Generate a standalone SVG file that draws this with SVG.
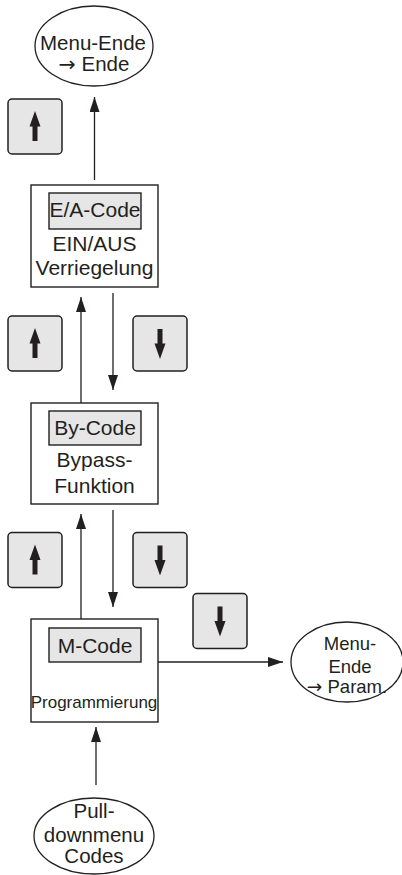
<svg xmlns="http://www.w3.org/2000/svg" width="402" height="875" viewBox="0 0 402 875">
<style>
text{font-family:"Liberation Sans",Arial,sans-serif;fill:#231f20;text-anchor:middle}
.t{font-size:21px}
.e{font-size:20.5px}
.s{font-size:17px}
.r{font-size:18.5px}
.ar{font-family:"DejaVu Sans",sans-serif}
.box{fill:#fff;stroke:#231f20;stroke-width:1.4}
.lbl{fill:#e6e6e6;stroke:#231f20;stroke-width:1.4}
.key{fill:#e6e6e6;stroke:#231f20;stroke-width:1.5}
.ka{fill:#231f20}
.ell{fill:#fff;stroke:#231f20;stroke-width:1.3}
.c{stroke:#231f20;stroke-width:1.3;fill:none;marker-end:url(#ah)}
</style>
<defs>
<marker id="ah" markerWidth="15" markerHeight="10" refX="15" refY="5" orient="auto" markerUnits="userSpaceOnUse">
<path d="M0,0 L15,5 L0,10 Z" fill="#231f20"/>
</marker>
<g id="kup"><rect class="key" x="-27" y="-27.5" width="54" height="55" rx="4"/><path class="ka" d="M0,-15.5 L5.5,0 L2.5,0 L2.5,14.5 L-2.5,14.5 L-2.5,0 L-5.5,0 Z"/></g>
<g id="kdn"><rect class="key" x="-27" y="-27.5" width="54" height="55" rx="4"/><path class="ka" d="M0,15.5 L5.5,0 L2.5,0 L2.5,-14.5 L-2.5,-14.5 L-2.5,0 L-5.5,0 Z"/></g>
</defs>
<g id="connectors">
<line class="c" x1="94.5" y1="180" x2="94.5" y2="97"/>
<line class="c" x1="81" y1="403" x2="81" y2="297"/>
<line class="c" x1="113" y1="293" x2="113" y2="390"/>
<line class="c" x1="81" y1="619" x2="81" y2="514"/>
<line class="c" x1="113" y1="510" x2="113" y2="607"/>
<line class="c" x1="158" y1="662" x2="283" y2="662"/>
<line class="c" x1="96" y1="785" x2="96" y2="727"/>
</g>
<g id="menu-ende-top">
<ellipse class="ell" cx="94" cy="46" rx="59" ry="40"/>
<text class="e" x="93" y="50">Menu-Ende</text>
<text class="e" x="94" y="71"><tspan class="ar">→</tspan> Ende</text>
</g>
<g id="key-up-1"><use href="#kup" x="35" y="126.5"/></g>
<g id="ea-code">
<rect class="box" x="31" y="185" width="127" height="102"/>
<rect class="lbl" x="49" y="193" width="92" height="36"/>
<text class="t" x="95" y="217">E/A-Code</text>
<text class="t" x="94.5" y="251">EIN/AUS</text>
<text class="t" x="94.5" y="275">Verriegelung</text>
</g>
<g id="key-up-2"><use href="#kup" x="35" y="343.5"/></g>
<g id="key-down-2"><use href="#kdn" x="160" y="343.5"/></g>
<g id="by-code">
<rect class="box" x="31" y="403" width="127" height="101"/>
<rect class="lbl" x="49" y="411" width="92" height="34"/>
<text class="t" x="95" y="435">By-Code</text>
<text class="t" x="94.5" y="467">Bypass-</text>
<text class="t" x="94.5" y="493">Funktion</text>
</g>
<g id="key-up-3"><use href="#kup" x="35" y="560"/></g>
<g id="key-down-3"><use href="#kdn" x="160" y="560"/></g>
<g id="key-down-4"><use href="#kdn" x="220" y="621"/></g>
<g id="m-code">
<rect class="box" x="31" y="619" width="127" height="103"/>
<rect class="lbl" x="49" y="628" width="92" height="34"/>
<text class="t" x="95" y="653">M-Code</text>
<text class="s" x="94" y="708">Programmierung</text>
</g>
<g id="menu-ende-param">
<ellipse class="ell" cx="347" cy="662" rx="56" ry="40"/>
<text class="r" x="350" y="650">Menu-</text>
<text class="r" x="350" y="673">Ende</text>
<text class="r" x="347" y="693"><tspan class="ar">→</tspan> Param.</text>
</g>
<g id="pulldown">
<ellipse class="ell" cx="94" cy="836" rx="60" ry="38"/>
<text class="e" x="94" y="818">Pull-</text>
<text class="e" x="94" y="842">downmenu</text>
<text class="e" x="94" y="863">Codes</text>
</g>
</svg>
